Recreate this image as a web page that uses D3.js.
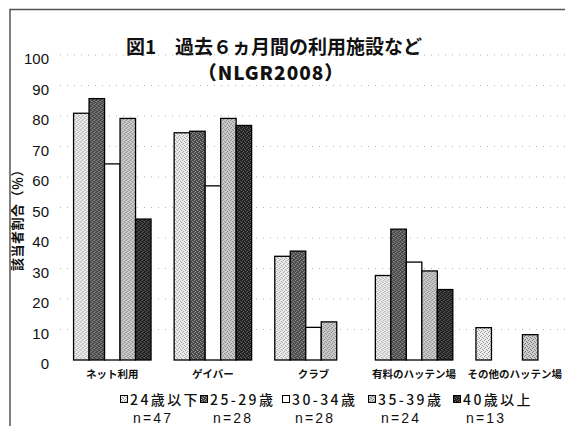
<!DOCTYPE html>
<html>
<head>
<meta charset="utf-8">
<script src="https://cdn.jsdelivr.net/npm/d3@7/dist/d3.min.js"></script>
<style>
  html, body { margin: 0; padding: 0; background: #fff; }
  svg { display: block; }
</style>
</head>
<body>
<svg id="chart" width="565" height="426"></svg>
<script>
// Facilities used in the past 6 months, by age group (NLGR2008)
const categories = ["ネット利用", "ゲイバー", "クラブ", "有料のハッテン場", "その他のハッテン場"];
const seriesNames = ["24歳以下", "25-29歳", "30-34歳", "35-39歳", "40歳以上"];
const seriesN = ["n=47", "n=28", "n=28", "n=24", "n=13"];

// percentage values per age group, in category order
const age24under = [80.9, 74.5, 34.0, 27.7, 10.6];
const age25to29  = [85.7, 75.0, 35.7, 42.9, 0];
const age30to34  = [64.3, 57.1, 10.7, 32.1, 0];
const age35to39  = [79.2, 79.2, 12.5, 29.2, 8.3];
const age40over  = [46.2, 76.9, 0, 23.1, 0];
const seriesValues = [age24under, age25to29, age30to34, age35to39, age40over];

const yTicks = [0, 10, 20, 30, 40, 50, 60, 70, 80, 90, 100];

const svg = d3.select("#chart");
const W = 565, H = 426;

// halftone-like fills
const defs = svg.append("defs");
const fills = [
  { id: "p0", base: "#eeeeee", dot: "#9a9a9a" },
  { id: "p1", base: "#474747", dot: "#a0a0a0" },
  null,
  { id: "p3", base: "#cdcdcd", dot: "#7c7c7c" },
  { id: "p4", base: "#1e1e1e", dot: "#707070" }
];
const dotSpots = [[0, 0], [2, 1], [1, 3], [3, 2]];
fills.forEach(f => {
  if (!f) return;
  const p = defs.append("pattern").attr("id", f.id)
    .attr("patternUnits", "userSpaceOnUse").attr("width", 4).attr("height", 4);
  p.append("rect").attr("width", 4).attr("height", 4).attr("fill", f.base);
  dotSpots.forEach(([dx, dy]) => p.append("rect").attr("x", dx).attr("y", dy)
    .attr("width", 1).attr("height", 1).attr("fill", f.dot));
});
const fillOf = i => fills[i] ? `url(#${fills[i].id})` : "#ffffff";

// outer frame
svg.append("path")
  .attr("d", `M10,${H} L10,9.5 L${W},9.5`)
  .attr("fill", "none").attr("stroke", "#555").attr("stroke-width", 1.5);

// scales
const y = d3.scaleLinear().domain([0, 100]).range([360, 55]);
const x0 = d3.scaleBand().domain(categories).range([62, 565])
  .paddingInner(0.23).paddingOuter(0.115);
const x1 = d3.scaleBand().domain(d3.range(seriesNames.length))
  .range([0, x0.bandwidth()]).padding(0);

// dotted gridlines
svg.append("g").selectAll("line").data(yTicks.slice(1)).join("line")
  .attr("x1", 60).attr("x2", W)
  .attr("y1", d => y(d)).attr("y2", d => y(d))
  .attr("stroke", "#b5b5b5").attr("stroke-width", 1)
  .attr("stroke-dasharray", "1,6");

// y axis labels
const yAxis = d3.axisLeft(y).tickValues(yTicks).tickSize(0).tickPadding(0);
const gy = svg.append("g").attr("transform", "translate(49,0)").call(yAxis);
gy.select(".domain").remove();
gy.selectAll(".tick text")
  .attr("font-family", "'Liberation Sans', Arial, sans-serif")
  .attr("font-size", 15).attr("fill", "#111")
  .attr("dy", null).attr("y", 8.5);

// y axis title
svg.append("text")
  .attr("transform", "translate(22,217) rotate(-90)")
  .attr("text-anchor", "middle")
  .attr("font-family", "'Noto Sans CJK JP', sans-serif")
  .attr("font-weight", 700).attr("font-size", 13).attr("fill", "#111")
  .attr("letter-spacing", 0.5)
  .text("該当者割合（％）");

// bars
const groups = svg.append("g").selectAll("g").data(categories).join("g")
  .attr("transform", d => `translate(${x0(d)},0)`);
groups.selectAll("rect")
  .data((c, ci) => seriesValues.map((vals, si) => ({ si, v: vals[ci] })).filter(d => d.v > 0))
  .join("rect")
  .attr("x", d => x1(d.si))
  .attr("y", d => y(d.v))
  .attr("width", x1.bandwidth())
  .attr("height", d => y(0) - y(d.v))
  .attr("fill", d => fillOf(d.si))
  .attr("stroke", "#000").attr("stroke-width", 1.3);

// category labels
const xAxis = d3.axisBottom(x0).tickSize(0).tickPadding(0);
const gx = svg.append("g").attr("transform", "translate(0,372)").call(xAxis);
gx.select(".domain").remove();
gx.selectAll("text")
  .attr("font-family", "'Noto Sans CJK JP', sans-serif")
  .attr("font-weight", 700).attr("font-size", 10.5).attr("fill", "#111")
  .attr("dy", "0.55em");

// title
svg.append("text").attr("x", 274).attr("y", 54).attr("text-anchor", "middle")
  .attr("font-family", "'Noto Sans CJK JP', sans-serif")
  .attr("font-weight", 700).attr("font-size", 19).attr("fill", "#111")
  .text("図1　過去６ヵ月間の利用施設など");
svg.append("text").attr("x", 271).attr("y", 80).attr("text-anchor", "middle")
  .attr("font-family", "'Noto Sans CJK JP', sans-serif")
  .attr("font-weight", 900).attr("font-size", 19).attr("fill", "#111")
  .attr("letter-spacing", 1)
  .text("（NLGR2008）");

// legend
const legendX = [120, 200, 282, 368, 453];
const lg = svg.append("g").selectAll("g").data(seriesNames).join("g")
  .attr("transform", (d, i) => `translate(${legendX[i]},0)`);
lg.append("rect").attr("x", 0.5).attr("y", 395.5).attr("width", 7).attr("height", 7)
  .attr("fill", (d, i) => fillOf(i)).attr("stroke", "#000").attr("stroke-width", 1);
lg.append("text").attr("x", 10).attr("y", 405)
  .attr("font-family", "'Noto Sans CJK JP', sans-serif")
  .attr("font-weight", 500).attr("font-size", 14).attr("fill", "#111")
  .attr("letter-spacing", 2.4)
  .text(d => d);
lg.append("text").attr("x", 13).attr("y", 423)
  .attr("font-family", "'Liberation Sans', Arial, sans-serif")
  .attr("font-size", 14).attr("letter-spacing", 2.2).attr("fill", "#111")
  .text((d, i) => seriesN[i]);
</script>
</body>
</html>
